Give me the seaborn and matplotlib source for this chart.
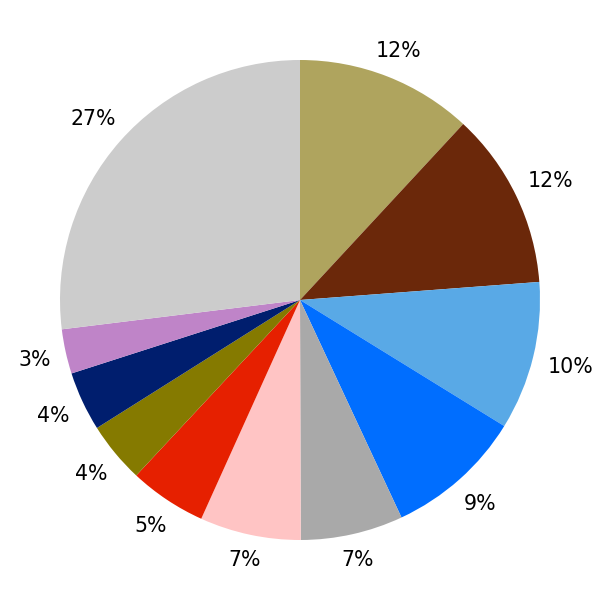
import matplotlib
matplotlib.use("Agg")
import numpy as np
import matplotlib.pyplot as plt
import seaborn as sns

categories = ["A", "B", "C", "D", "E", "F", "G", "H", "I", "J", "K"]
values = [11.9, 11.9, 10.0, 9.25, 6.9, 6.8, 5.2, 4.1, 4.0, 3.0, 26.95]
colors = ["#AFA45E", "#6B280A", "#59A9E6", "#006EFF", "#A9A9A9", "#FFC4C4",
          "#E62000", "#857A00", "#001E6E", "#BF84C8", "#CCCCCC"]

sns.set_style("white")
plt.rcParams['font.family'] = ['DejaVu Sans']

FS = 14.8
fig = plt.figure(figsize=(6, 6), dpi=100)
ax = fig.add_axes([0.1, 0.1, 0.8, 0.8])
wedges, texts, autotexts = ax.pie(values, colors=colors, startangle=90, counterclock=False,
                                  autopct='%.0f%%', pctdistance=1.12,
                                  textprops={'fontsize': FS, 'color': 'black'},
                                  wedgeprops={'linewidth': 0})
ax.set_aspect('equal')
ax.set_xlim(-1, 1)
ax.set_ylim(-1, 1)
ax.axis('off')

fig.canvas.draw()
renderer = fig.canvas.get_renderer()
R = 240.0            # pie radius in pixels
gap = 14.0           # distance from pie edge to label box
fs_px = FS * 100 / 72.0
hh = 0.729 * fs_px / 2
for w, t in zip(wedges, autotexts):
    ang = np.deg2rad((w.theta1 + w.theta2) / 2)
    ux, uy = np.cos(ang), np.sin(ang)
    bb = t.get_window_extent(renderer)
    hw = bb.width / 2
    d = R + gap + abs(ux) * hw + abs(uy) * hh
    cx, cy = ux * d / R, uy * d / R
    t.set_position((cx, cy - hh / R))
    t.set_ha('center')
    t.set_va('baseline')

fig.savefig("out.png", dpi=100)
